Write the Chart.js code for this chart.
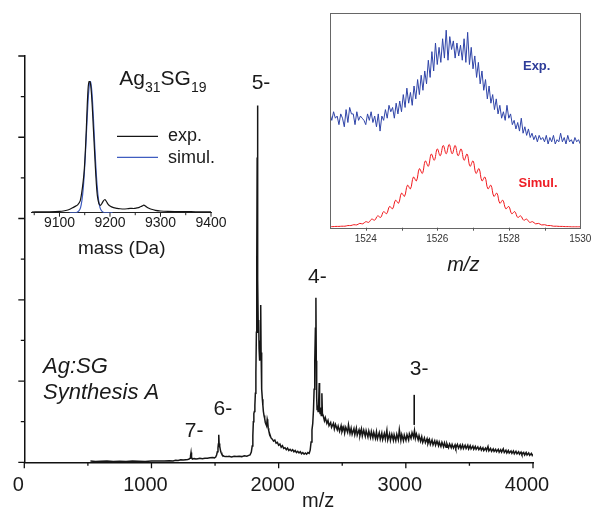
<!DOCTYPE html>
<html><head><meta charset="utf-8">
<script src="https://cdn.jsdelivr.net/npm/chart.js@4.4.1/dist/chart.umd.min.js"></script>
<style>
html,body{margin:0;padding:0;background:#fff;}
#wrap{position:relative;width:597px;height:508px;overflow:hidden;background:#fff;}
canvas{position:absolute;}
</style></head><body>
<div id="wrap">
<canvas id="main" width="597" height="508" style="left:0;top:0;width:597px;height:508px"></canvas>
<canvas id="insL" width="260" height="270" style="left:0;top:0;width:260px;height:270px"></canvas>
<canvas id="insR" width="297" height="290" style="left:300px;top:0;width:297px;height:290px"></canvas>
</div>
<script>
// ---------- MAIN SPECTRUM ----------
const specMz = [520,560,600,650,700,750,800,850,900,950,1000,1050,1100,1140,1170,1190,1210,1230,1250,1270,1285,1296,
1303,1307,1311,1315,1322,1335,1350,1365,1380,1400,1420,1440,1460,1480,1495,
1505,1512,1518,1523,1526,1529,1532,1535,1538,1542,1547,1553,1560,1570,1582,1595,1610,1630,1650,1670,1690,1710,1730,1750,1765,1775,
1785,1792,1797,1801,1805,1809,1813,1817,1821,1825,1828,1831,1833,1835,1837,1840,1843,1846,1849,1852,1855,1858,1860,1862,1865,1868,1872,1876,1880,1885,1890,1895,1900,1905,1910,1914,1918,1922,
1930,1940,1950,1960,1970,1980,1990,2000,2010,2020,2030,2040,2050,2060,2070,2080,2090,2100,2110,2120,2130,2140,2150,2160,2170,2180,2190,2200,2210,2220,2230,2240,
2248,2255,2262,2268,2274,2279,2284,2289,2293,2296,2299,2302,2306,2310,2314,2319,2322,2326,2330,2335,2340,2344,2350,
2360,2367,2379,2388,2396,2409,2416,2431,2438,2447,2461,2468,2479,2491,2498,2512,2519,2528,2542,2549,2561,2570,2578,2592,2599,2611,2618,2632,2639,2651,2658,2669,2681,2688,2702,2709,2722,2729,2741,2748,2761,2769,2777,2791,2799,2811,2818,2831,2839,2851,2858,2872,2879,2890,2902,2908,2921,2929,2941,2949,2961,2968,2981,2988,3001,3009,3022,3028,3041,3049,3060,
3068,3075,3083,3097,3104,3116,3125,3133,3146,3154,3167,3174,3186,3193,3206,3214,3227,3234,3245,3257,3263,3276,3284,3297,3304,3316,3323,3336,3344,3357,3364,3375,3387,3393,3406,3414,3427,3434,3446,3453,3466,3474,3487,3494,3506,3513,3527,3534,3546,3553,3566,3574,3587,3594,3606,3613,3627,3634,3646,3653,3666,3674,3687,3694,3706,3713,3727,3734,3746,3753,3766,3774,3787,3794,3806,3813,3827,3834,3846,3853,3866,3874,3887,3894,3906,3913,3927,3934,3946,3953,3966,3974,3987,3994,4000];
const specInt = [0.3,0.2,0.25,0.3,0.2,0.25,0.2,0.3,0.25,0.2,0.3,0.3,0.35,0.4,0.35,0.5,0.45,0.6,0.55,0.65,0.7,0.8,
1.0,1.6,2.4,1.2,0.8,0.9,0.8,0.9,1.0,0.9,1.0,1.0,1.1,1.2,1.1,
1.3,1.8,2.6,3.6,4.5,6.8,4.6,3.7,4.0,3.0,2.4,2.0,1.7,1.5,1.4,1.4,1.5,1.3,1.5,1.4,1.5,1.4,1.6,1.5,1.7,1.8,
2.5,4.0,6.5,10,12,12.5,14,17,22,32,50,75,87.8,62,45,32,35,28,30,25,27,32,38.7,27,21,18,15.5,14,12.5,11.5,10.8,9.8,9.4,9.0,10.6,10.0,8.4,7.8,
7.0,6.0,5.7,5.2,5.5,4.7,4.9,4.2,4.5,3.7,4.1,3.4,3.6,3.1,3.5,2.9,3.2,2.8,3.1,2.6,2.9,2.4,2.7,2.3,2.6,2.1,2.4,2.0,2.3,2.0,2.4,2.2,
3.0,5.0,8.0,9.5,13,18,25,33,40.5,25,16,13,14,12.5,14,19.5,13,12,13.5,11.5,17,12,11.5,
10.2,11.0,9.6,10.3,9.0,9.8,8.6,9.6,8.2,9.3,8.0,8.9,7.6,9.0,7.5,8.7,7.2,8.6,7.4,9.2,7.1,8.4,6.9,8.3,6.8,8.4,6.7,8.0,6.6,8.2,6.5,7.9,6.4,7.8,6.2,7.7,6.1,7.6,6.0,7.4,5.9,7.5,5.8,7.3,5.7,7.2,5.6,7.1,5.7,7.9,5.5,7.0,5.4,6.9,5.4,6.8,5.3,6.9,5.5,8.0,5.4,6.8,5.3,6.7,5.4,6.8,5.5,7.0,5.9,7.3,6.2,
7.8,5.9,7.0,5.5,6.6,5.2,6.3,4.9,6.0,4.8,5.8,4.6,5.6,4.4,5.5,4.3,5.3,4.2,5.2,4.1,5.0,3.9,4.9,3.8,4.8,3.7,4.6,3.6,4.5,3.6,4.4,3.5,4.3,3.5,4.4,3.5,4.3,3.4,4.3,3.4,4.2,3.4,4.2,3.3,4.1,3.3,4.0,3.2,3.9,3.2,3.8,3.1,3.7,3.0,3.6,2.9,3.5,2.9,3.9,2.8,3.4,2.7,3.3,2.7,3.2,2.6,3.2,2.5,3.1,2.5,3.3,2.4,3.0,2.3,2.9,2.3,2.8,2.2,2.8,2.1,2.7,2.1,2.6,2.0,2.5,1.9,2.4,1.8,2.4,1.8,2.3,1.7,2.2,1.7,2.0];
const mainXTicks = [0,500,1000,1500,2000,2500,3000,3500,4000];
const mainXLabels = [0,1000,2000,3000,4000];
const mainYTicks = [0,10,20,30,40,50,60,70,80,90,100];
const peakLabels = ['7-','6-','5-','4-','3-'];

// ---------- LEFT INSET (deconvoluted mass) ----------
const expMass = [9045,9060,9080,9100,9110,9118,9125,9131,9136,9141,9144,9147,9149,9151,9153,9155,9157,9159,9161,9163,9165,9167,9169,9171,9173,9175,9178,9181,9184,9187,9190,9193,9196,9200,9207,9214,9220,9227,9234,9240,9247,9253,9258,9263,9267,9271,9276,9282,9290,9300,9315,9330,9350,9370,9400];
const expInt = [0.5,0.6,0.7,1.0,1.5,2.2,3.5,4.8,6,9,15,24,32,45,62,82,96,100,99,92,80,65,50,35,22,13,7,5.5,7,9,10,8.5,6.5,5,3.8,3.3,3.0,2.8,3.0,3.3,3.2,3.6,4.0,5.0,5.7,4.8,3.6,2.6,1.8,1.3,1.0,0.9,0.8,0.7,0.6];
const simMass = [9120,9130,9135,9140,9143,9146,9149,9152,9155,9158,9161,9164,9167,9170,9173,9176,9179,9182,9187,9195,9205];
const simInt = [0,0,0.3,2.2,6.0,14.2,28.7,49.6,73.2,92.5,100,92.5,73.2,49.6,28.7,14.2,6.0,2.2,0.3,0,0];
const insLTicks = [9050,9100,9150,9200,9250,9300,9350,9400];
const insLLabels = [9100,9200,9300,9400];
const legendNames = ['exp.','simul.'];

// ---------- RIGHT INSET (isotope pattern, 6-) ----------
const isoExpX = [1523,1523.05,1523.1,1523.15,1523.2,1523.25,1523.3,1523.35,1523.4,1523.45,1523.5,1523.55,1523.6,1523.65,1523.7,1523.75,1523.8,1523.85,1523.9,1523.95,
1524,1524.05,1524.1,1524.15,1524.2,1524.25,1524.3,1524.35,1524.4,1524.45,1524.5,1524.55,1524.6,1524.65,1524.7,1524.75,1524.8,1524.85,1524.9,1524.95,
1525,1525.05,1525.1,1525.15,1525.2,1525.25,1525.3,1525.35,1525.4,1525.45,1525.5,1525.55,1525.6,1525.65,1525.7,1525.75,1525.8,1525.85,1525.9,1525.95,
1526,1526.05,1526.1,1526.15,1526.2,1526.25,1526.3,1526.35,1526.4,1526.45,1526.5,1526.55,1526.6,1526.65,1526.7,1526.75,1526.8,1526.85,1526.9,1526.95,
1527,1527.05,1527.1,1527.15,1527.2,1527.25,1527.3,1527.35,1527.4,1527.45,1527.5,1527.55,1527.6,1527.65,1527.7,1527.75,1527.8,1527.85,1527.9,1527.95,
1528,1528.05,1528.1,1528.15,1528.2,1528.25,1528.3,1528.35,1528.4,1528.45,1528.5,1528.55,1528.6,1528.65,1528.7,1528.75,1528.8,1528.85,1528.9,1528.95,
1529,1529.05,1529.1,1529.15,1529.2,1529.25,1529.3,1529.35,1529.4,1529.45,1529.5,1529.55,1529.6,1529.65,1529.7,1529.75,1529.8,1529.85,1529.9,1529.95,1530];
const isoExpY = [53,50,54,51,52,48,53,51,47,55,49,56,53,53,48,54,50,52,51,50,
48,53,50,54,49,52,47,53,45,52,50,55,51,57,54,56,51,58,53,59,
54,62,56,65,58,63,57,66,60,69,62,71,64,73,67,78,70,82,73,86,
76,84,77,88,79,92,78,89,83,87,79,86,80,85,78,88,77,91,76,84,
74,80,70,77,67,73,64,69,60,66,58,62,55,60,53,57,51,54,50,57,
51,53,48,50,46,49,45,51,44,47,43,46,42,44,41,43,40,43,41,42,
40,43,39,42,40,43,39,41,40,44,40,42,39,43,40,41,39,42,40,41,39];
const isoSimX = [1523,1523.083,1523.167,1523.25,1523.333,1523.417,1523.5,1523.583,1523.667,1523.75,1523.833,1523.917,
1524,1524.083,1524.167,1524.25,1524.333,1524.417,1524.5,1524.583,1524.667,1524.75,1524.833,1524.917,
1525,1525.083,1525.167,1525.25,1525.333,1525.417,1525.5,1525.583,1525.667,1525.75,1525.833,1525.917,
1526,1526.083,1526.167,1526.25,1526.333,1526.417,1526.5,1526.583,1526.667,1526.75,1526.833,1526.917,
1527,1527.083,1527.167,1527.25,1527.333,1527.417,1527.5,1527.583,1527.667,1527.75,1527.833,1527.917,
1528,1528.083,1528.167,1528.25,1528.333,1528.417,1528.5,1528.583,1528.667,1528.75,1528.833,1528.917,
1529,1529.083,1529.167,1529.25,1529.333,1529.417,1529.5,1529.583,1529.667,1529.75,1529.833,1529.917,1530];
const isoSimY = [0.5,0.5,0.6,0.6,0.7,0.7,1.0,1.0,1.4,1.3,2.0,1.8,
2.8,2.5,4.0,3.5,5.5,4.8,7.5,6.5,9.9,8.8,12.8,11.4,
16.1,14.6,19.8,18.1,23.6,21.8,27.5,25.3,31.1,28.6,34.3,31.4,
36.7,33.5,38.3,34.4,38.8,34.4,38.3,33.5,36.7,31.4,34.3,28.6,
31.1,25.3,27.5,21.8,23.6,18.1,19.8,14.6,16.1,11.4,12.8,8.8,
9.9,6.5,7.5,4.8,5.5,3.5,4.0,2.5,2.8,1.8,2.0,1.3,
1.4,1.0,1.0,0.7,0.7,0.6,0.6,0.5,0.5,0.4,0.4,0.4,0.4];
const isoXTicks = [1523,1524,1525,1526,1527,1528,1529,1530];
const isoXLabels = [1524,1526,1528,1530];

// ---------- helpers ----------
const FONT = "'Liberation Sans', Arial, Helvetica, sans-serif";
function pts(xs, ys){ return xs.map((x,i)=>({x:x, y:ys[i]})); }
function txt(ctx, s, x, y, font, color, align, base){
  ctx.font = font; ctx.fillStyle = color; ctx.textAlign = align || 'center'; ctx.textBaseline = base || 'middle'; ctx.fillText(s, x, y);
}

// ---------- main chart ----------
const mainDeco = {id:'mainDeco', afterDraw(chart){
  const ctx = chart.ctx, a = chart.chartArea, x = chart.scales.x, y = chart.scales.y;
  ctx.save();
  ctx.strokeStyle = '#111'; ctx.lineWidth = 1.3;
  ctx.beginPath();
  mainXTicks.forEach(v => { const px = x.getPixelForValue(v); const L = mainXLabels.includes(v) ? 6 : 3.5; ctx.moveTo(px, a.bottom); ctx.lineTo(px, a.bottom + L); });
  mainYTicks.forEach(v => { const py = y.getPixelForValue(v); const L = (v % 20 === 0) ? 6 : 3.5; ctx.moveTo(a.left, py); ctx.lineTo(a.left - L, py); });
  ctx.stroke();
  ctx.lineWidth = 1.6;
  ctx.beginPath();
  ctx.moveTo(x.getPixelForValue(3066), y.getPixelForValue(16.6));
  ctx.lineTo(x.getPixelForValue(3066), y.getPixelForValue(9.2));
  ctx.stroke();
  const pos = [[1335,7.7],[1561,13.1],[1861,93.4],[2305,45.5],[3104,23.0]];
  peakLabels.forEach((s,i) => txt(ctx, s, x.getPixelForValue(pos[i][0]), y.getPixelForValue(pos[i][1]), '21px ' + FONT, '#1a1a1a', 'center', 'middle'));
  txt(ctx, 'Ag:SG', 43, 373, 'italic 22px ' + FONT, '#1a1a1a', 'left', 'alphabetic');
  txt(ctx, 'Synthesis A', 43, 399, 'italic 22px ' + FONT, '#1a1a1a', 'left', 'alphabetic');
  txt(ctx, 'm/z', x.getPixelForValue(2310), 507, '20px ' + FONT, '#1a1a1a', 'center', 'alphabetic');
  ctx.restore();
}};

new Chart(document.getElementById('main'), {
  type: 'line',
  data: {datasets: [{data: pts(specMz, specInt), borderColor: '#161616', borderWidth: 1.5, pointRadius: 0, tension: 0, fill: false}]},
  options: {
    responsive: false, animation: false, devicePixelRatio: 1, events: [],
    layout: {padding: {top: 56, right: 64, left: 0, bottom: 0}},
    plugins: {legend: {display: false}, tooltip: {enabled: false}},
    scales: {
      x: {type: 'linear', min: 0, max: 4000,
        afterBuildTicks: s => { s.ticks = mainXTicks.map(v => ({value: v})); },
        ticks: {autoSkip: false, maxRotation: 0, padding: 11, labelOffset: -6, color: '#1a1a1a', font: {family: FONT, size: 20},
          callback: v => mainXLabels.includes(v) ? String(v) : ''},
        grid: {display: true, drawOnChartArea: false, drawTicks: false},
        border: {display: true, color: '#111', width: 1.5},
        afterFit: s => { s.height = 508 - 462.3; }
      },
      y: {min: 0, max: 100,
        ticks: {display: false},
        grid: {display: true, drawOnChartArea: false, drawTicks: false},
        border: {display: true, color: '#111', width: 1.5},
        afterFit: s => { s.width = 24.3; }
      }
    }
  },
  plugins: [mainDeco]
});

// ---------- left inset ----------
const leftDeco = {id:'leftDeco', afterDraw(chart){
  const ctx = chart.ctx, a = chart.chartArea, x = chart.scales.x;
  ctx.save();
  ctx.strokeStyle = '#222'; ctx.lineWidth = 1;
  ctx.beginPath();
  insLTicks.forEach(v => { const px = x.getPixelForValue(v); const L = insLLabels.includes(v) ? 4 : 2.5; ctx.moveTo(px, a.bottom); ctx.lineTo(px, a.bottom + L); });
  ctx.stroke();
  let cx = 119.3;
  const parts = [['Ag', 21, 85], ['31', 14, 92], ['SG', 21, 85], ['19', 14, 92]];
  parts.forEach(p => {
    ctx.font = p[1] + 'px ' + FONT; ctx.fillStyle = '#1a1a1a'; ctx.textAlign = 'left'; ctx.textBaseline = 'alphabetic';
    ctx.fillText(p[0], cx, p[2]); cx += ctx.measureText(p[0]).width;
  });
  ctx.lineWidth = 1.3;
  ctx.strokeStyle = '#151515'; ctx.beginPath(); ctx.moveTo(117, 136.3); ctx.lineTo(158, 136.3); ctx.stroke();
  ctx.strokeStyle = '#3f5cc0'; ctx.beginPath(); ctx.moveTo(117, 157.3); ctx.lineTo(158, 157.3); ctx.stroke();
  txt(ctx, legendNames[0], 168, 140.5, '18px ' + FONT, '#1a1a1a', 'left', 'alphabetic');
  txt(ctx, legendNames[1], 168, 163.3, '18px ' + FONT, '#1a1a1a', 'left', 'alphabetic');
  txt(ctx, 'mass (Da)', 121.7, 253.5, '19px ' + FONT, '#1a1a1a', 'center', 'alphabetic');
  ctx.restore();
}};

new Chart(document.getElementById('insL'), {
  type: 'line',
  data: {datasets: [
    {data: pts(expMass, expInt), borderColor: '#151515', borderWidth: 1.2, pointRadius: 0, tension: 0.2, fill: false},
    {data: pts(simMass, simInt), borderColor: '#3f5cc0', borderWidth: 1.2, pointRadius: 0, tension: 0.3, fill: false}
  ]},
  options: {
    responsive: false, animation: false, devicePixelRatio: 1, events: [],
    layout: {padding: {left: 31.7, right: 49, top: 81, bottom: 0}},
    plugins: {legend: {display: false}, tooltip: {enabled: false}},
    scales: {
      x: {type: 'linear', min: 9045, max: 9400,
        afterBuildTicks: s => { s.ticks = insLTicks.map(v => ({value: v})); },
        ticks: {autoSkip: false, maxRotation: 0, padding: 2, color: '#1a1a1a', font: {family: FONT, size: 14},
          callback: v => insLLabels.includes(v) ? String(v) : ''},
        grid: {display: true, drawOnChartArea: false, drawTicks: false},
        border: {display: true, color: '#222', width: 1},
        afterFit: s => { s.height = 270 - 212.7; }
      },
      y: {display: false, min: 0, max: 100}
    }
  },
  plugins: [leftDeco]
});

// ---------- right inset ----------
const rightDeco = {id:'rightDeco', afterDraw(chart){
  const ctx = chart.ctx, a = chart.chartArea, x = chart.scales.x;
  ctx.save();
  ctx.strokeStyle = '#666'; ctx.lineWidth = 1;
  ctx.strokeRect(Math.round(a.left) + 0.5, Math.round(a.top) + 0.5, Math.round(a.right - a.left), Math.round(a.bottom - a.top));
  ctx.strokeStyle = '#555';
  ctx.beginPath();
  isoXTicks.forEach(v => { if (v > 1523 && v < 1530) { const px = Math.round(x.getPixelForValue(v)) + 0.5; ctx.moveTo(px, a.bottom); ctx.lineTo(px, a.bottom + 3); } });
  ctx.stroke();
  txt(ctx, 'Exp.', 236.7, 70, 'bold 13px ' + FONT, '#2e3d99', 'center', 'alphabetic');
  txt(ctx, 'Simul.', 238, 186.5, 'bold 13px ' + FONT, '#ee1c24', 'center', 'alphabetic');
  txt(ctx, 'm/z', 163.3, 271, 'italic 20px ' + FONT, '#1a1a1a', 'center', 'alphabetic');
  ctx.restore();
}};

new Chart(document.getElementById('insR'), {
  type: 'line',
  data: {datasets: [
    {data: pts(isoExpX, isoExpY), borderColor: '#2f44a8', borderWidth: 1, pointRadius: 0, tension: 0, fill: false},
    {data: pts(isoSimX, isoSimY), borderColor: '#f0181c', borderWidth: 1, pointRadius: 0, tension: 0.4, fill: false}
  ]},
  options: {
    responsive: false, animation: false, devicePixelRatio: 1, events: [],
    layout: {padding: {left: 30, right: 13, top: 13, bottom: 0}},
    plugins: {legend: {display: false}, tooltip: {enabled: false}},
    scales: {
      x: {type: 'linear', min: 1523, max: 1530,
        afterBuildTicks: s => { s.ticks = isoXTicks.map(v => ({value: v})); },
        ticks: {autoSkip: false, maxRotation: 0, padding: 5.6, color: '#333', font: {family: FONT, size: 10},
          callback: v => isoXLabels.includes(v) ? String(v) : ''},
        grid: {display: true, drawOnChartArea: false, drawTicks: false},
        border: {display: false},
        afterFit: s => { s.height = 290 - 227.7; }
      },
      y: {display: false, min: 0, max: 100}
    }
  },
  plugins: [rightDeco]
});
</script>
</body></html>
